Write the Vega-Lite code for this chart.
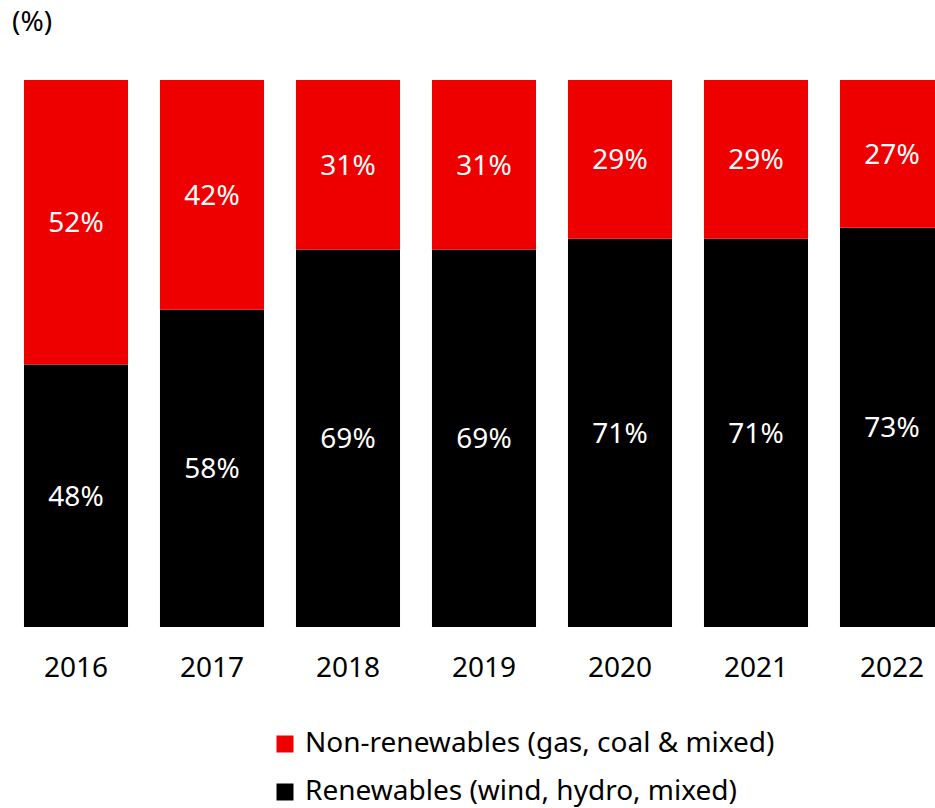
{
  "$schema": "https://vega.github.io/schema/vega-lite/v6.json",
  "width": 927,
  "height": 547,
  "autosize": {"type": "none"},
  "padding": {"left": 8, "top": 80, "right": 0, "bottom": 181},
  "background": "white",
  "config": {"view": {"stroke": null}, "font": "Noto Sans"},
  "title": {"text": "(%)", "anchor": "start", "frame": "group", "dx": 4, "offset": 15, "baseline": "bottom", "fontSize": 28, "fontWeight": "normal", "color": "black", "font": "Noto Sans"},
  "data": {"values": [
    {"year": "2016", "type": "Renewables (wind, hydro, mixed)", "ord": 1, "value": 48, "label": "48%"},
    {"year": "2016", "type": "Non-renewables (gas, coal & mixed)", "ord": 2, "value": 52, "label": "52%"},
    {"year": "2017", "type": "Renewables (wind, hydro, mixed)", "ord": 1, "value": 58, "label": "58%"},
    {"year": "2017", "type": "Non-renewables (gas, coal & mixed)", "ord": 2, "value": 42, "label": "42%"},
    {"year": "2018", "type": "Renewables (wind, hydro, mixed)", "ord": 1, "value": 69, "label": "69%"},
    {"year": "2018", "type": "Non-renewables (gas, coal & mixed)", "ord": 2, "value": 31, "label": "31%"},
    {"year": "2019", "type": "Renewables (wind, hydro, mixed)", "ord": 1, "value": 69, "label": "69%"},
    {"year": "2019", "type": "Non-renewables (gas, coal & mixed)", "ord": 2, "value": 31, "label": "31%"},
    {"year": "2020", "type": "Renewables (wind, hydro, mixed)", "ord": 1, "value": 71, "label": "71%"},
    {"year": "2020", "type": "Non-renewables (gas, coal & mixed)", "ord": 2, "value": 29, "label": "29%"},
    {"year": "2021", "type": "Renewables (wind, hydro, mixed)", "ord": 1, "value": 71, "label": "71%"},
    {"year": "2021", "type": "Non-renewables (gas, coal & mixed)", "ord": 2, "value": 29, "label": "29%"},
    {"year": "2022", "type": "Renewables (wind, hydro, mixed)", "ord": 1, "value": 73, "label": "73%"},
    {"year": "2022", "type": "Non-renewables (gas, coal & mixed)", "ord": 2, "value": 27, "label": "27%"}
  ]},
  "transform": [
    {"stack": "value", "groupby": ["year"], "sort": [{"field": "ord"}], "as": ["v0", "v1"]},
    {"calculate": "(datum.v0 + datum.v1) / 2", "as": "mid"}
  ],
  "encoding": {
    "x": {"field": "year", "type": "nominal", "title": null,
      "scale": {"range": [0, 952], "paddingInner": 0.235, "paddingOuter": 0.1175},
      "axis": {"labelAngle": 0, "domain": false, "ticks": false, "labelPadding": 27, "labelFontSize": 28, "labelColor": "black", "labelFont": "Noto Sans"}}
  },
  "layer": [
    {
      "mark": {"type": "bar"},
      "encoding": {
        "y": {"field": "v0", "type": "quantitative", "scale": {"domain": [0, 100]}, "axis": null},
        "y2": {"field": "v1"},
        "color": {"field": "type", "type": "nominal", "title": null,
          "scale": {"domain": ["Non-renewables (gas, coal & mixed)", "Renewables (wind, hydro, mixed)"], "range": ["#EE0000", "#000000"]},
          "legend": {"orient": "none", "legendX": 263, "legendY": 650, "symbolType": "square", "symbolSize": 289, "symbolStrokeWidth": 0, "labelFontSize": 28, "labelColor": "black", "labelFont": "Noto Sans", "rowPadding": 20, "labelOffset": 6, "labelLimit": 700}}
      }
    },
    {
      "mark": {"type": "text", "color": "white", "fontSize": 28, "baseline": "middle", "align": "center", "dy": 2},
      "encoding": {
        "y": {"field": "mid", "type": "quantitative", "scale": {"domain": [0, 100]}},
        "text": {"field": "label"}
      }
    }
  ]
}
